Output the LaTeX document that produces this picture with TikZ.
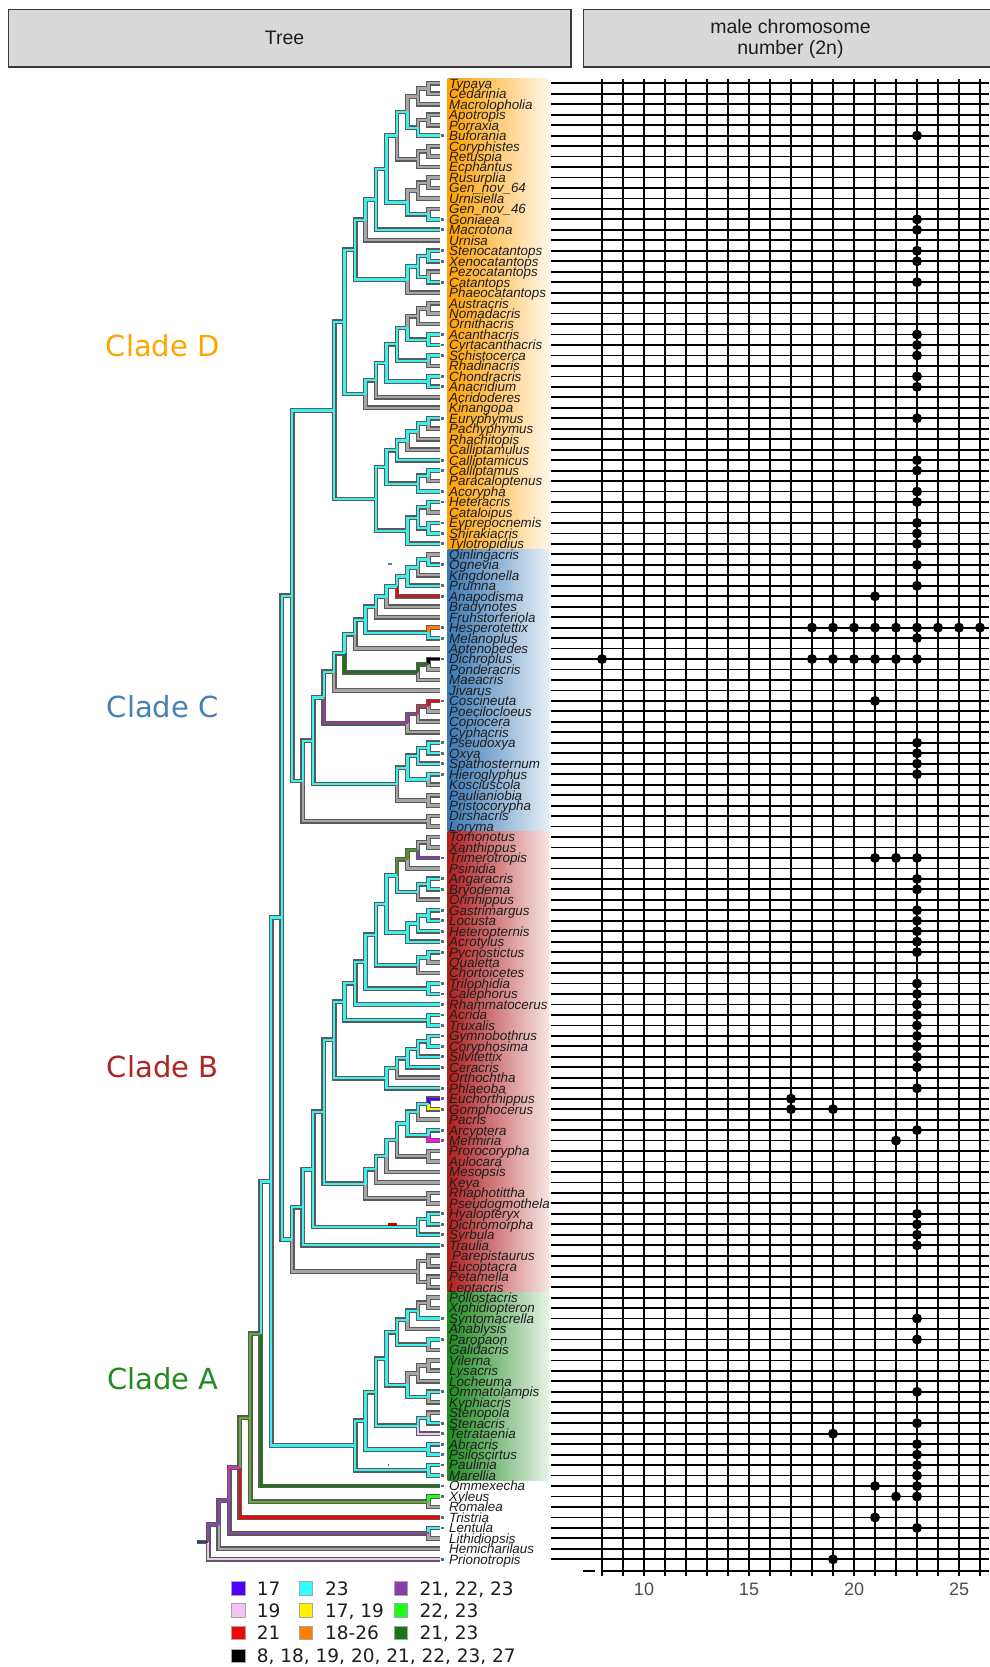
\documentclass[tikz,border=0pt]{standalone}
\usepackage{fontspec}
\setmainfont{Liberation Sans}
\newfontfamily\dvs{DejaVu Sans}
\usetikzlibrary{calc}
\definecolor{cyb}{HTML}{3DF0F0}
\definecolor{grb}{HTML}{A6A6A6}
\definecolor{outl}{HTML}{5A5A5A}
\definecolor{c17}{HTML}{5000FF}
\definecolor{c19}{HTML}{F2C4F8}
\definecolor{c21}{HTML}{F00808}
\definecolor{c23}{HTML}{33FFFF}
\definecolor{c1719}{HTML}{FFF200}
\definecolor{c1826}{HTML}{FF7F00}
\definecolor{c212223}{HTML}{8A3DAC}
\definecolor{c2223}{HTML}{1CFF1C}
\definecolor{c2123}{HTML}{18780F}
\definecolor{mixG}{HTML}{4E9420}
\definecolor{mixL}{HTML}{5FB02A}
\definecolor{mixA}{HTML}{C8305A}
\definecolor{mixB}{HTML}{93409F}
\definecolor{mixM}{HTML}{C23CB4}
\definecolor{mixP}{HTML}{8848A8}
\definecolor{magb}{HTML}{FF10F0}
\definecolor{stubc}{HTML}{3C3C70}
\definecolor{labc}{HTML}{1E1E1E}
\definecolor{tipc}{HTML}{5C6E78}
\definecolor{hdrf}{HTML}{D9D9D9}
\definecolor{hdrd}{HTML}{3A3A3A}
\definecolor{axc}{HTML}{4D4D4D}
\definecolor{cladeD}{HTML}{FFA500}
\definecolor{cladeC}{HTML}{4682B4}
\definecolor{cladeB}{HTML}{B22222}
\definecolor{cladeA}{HTML}{228B22}
\definecolor{bDl}{HTML}{FFA000}
\definecolor{bDr}{HTML}{FFF6EA}
\definecolor{bCl}{HTML}{3A78B4}
\definecolor{bCr}{HTML}{E6EFF7}
\definecolor{bBl}{HTML}{B01E1E}
\definecolor{bBr}{HTML}{F7E6E6}
\definecolor{bAl}{HTML}{1F8A1F}
\definecolor{bAr}{HTML}{E8F3E8}
\definecolor{smark}{HTML}{4682B4}

\newcommand\mkn[4]{%
  \coordinate (#1m) at ($(#3)!0.5!(#4)$);
  \coordinate (#1x) at ({439-10.486*#2},0);
  \coordinate (#1) at (#1x |- #1m);}

\newcommand\alledges{%
% ---- Clade D
\E{A1}{t0}{grb}\E{A1}{t1}{grb}\E{A2}{A1}{grb}\E{A2}{t2}{grb}
\E{A3}{t3}{grb}\E{A3}{t4}{grb}\E{A4}{A3}{grb}\E{A4}{t5}{cyb}
\E{A5}{A2}{grb}\E{A5}{A4}{cyb}
\E{A6}{t6}{grb}\E{A6}{t7}{grb}\E{A7}{A6}{grb}\E{A7}{t8}{grb}
\E{A8}{A5}{cyb}\E{A8}{A7}{grb}
\E{A9}{t9}{grb}\E{A9}{t10}{grb}\E{A10}{A9}{grb}\E{A10}{t11}{grb}
\E{A11}{t12}{grb}\E{A11}{t13}{cyb}\E{A12}{A10}{grb}\E{A12}{A11}{cyb}
\E{A13}{A8}{cyb}\E{A13}{A12}{cyb}\E{A14}{A13}{cyb}\E{A14}{t14}{cyb}
\E{A15}{A14}{cyb}\E{A15}{t15}{grb}
\E{A16}{t16}{cyb}\E{A16}{t17}{cyb}\E{A17}{t18}{grb}\E{A17}{t19}{cyb}
\E{A18}{A16}{cyb}\E{A18}{A17}{cyb}\E{A19}{A18}{cyb}\E{A19}{t20}{grb}
\E{A20}{A15}{cyb}\E{A20}{A19}{cyb}
\E{B1}{t21}{grb}\E{B1}{t22}{grb}\E{B2}{B1}{grb}\E{B2}{t23}{grb}
\E{B3}{t24}{cyb}\E{B3}{t25}{cyb}\E{B4}{B2}{grb}\E{B4}{B3}{cyb}
\E{B5}{t26}{cyb}\E{B5}{t27}{grb}\E{B6}{B4}{cyb}\E{B6}{B5}{cyb}
\E{B7}{t28}{cyb}\E{B7}{t29}{cyb}\E{B8}{B6}{cyb}\E{B8}{B7}{cyb}
\E{B9}{B8}{cyb}\E{B9}{t30}{grb}\E{B10}{B9}{cyb}\E{B10}{t31}{grb}
\E{A21}{A20}{cyb}\E{A21}{B10}{cyb}
\E{EP}{t32}{cyb}\E{EP}{t33}{grb}\E{EPR}{EP}{cyb}\E{EPR}{t34}{grb}
\E{EPRC}{EPR}{cyb}\E{EPRC}{t35}{grb}\E{EA}{EPRC}{cyb}\E{EA}{t36}{cyb}
\E{ECP}{t37}{cyb}\E{ECP}{t38}{grb}\E{ECPA}{ECP}{cyb}\E{ECPA}{t39}{cyb}
\E{EB}{EA}{cyb}\E{EB}{ECPA}{cyb}
\E{EHC}{t40}{cyb}\E{EHC}{t41}{grb}\E{EES}{t42}{cyb}\E{EES}{t43}{cyb}
\E{EHCES}{EHC}{cyb}\E{EHCES}{EES}{cyb}\E{EHCEST}{EHCES}{cyb}\E{EHCEST}{t44}{cyb}
\E{EE}{EB}{cyb}\E{EE}{EHCEST}{cyb}
\E{Droot}{A21}{cyb}\E{Droot}{EE}{cyb}
% ---- Clade C
\E{C1}{t45}{grb}\E{C1}{t46}{cyb}\E{C2}{C1}{cyb}\E{C2}{t47}{grb}\E{C3}{C2}{cyb}\E{C3}{t48}{cyb}
\E{C4}{C3}{cyb}\E{C4}{t49}{c21}\E{C5}{C4}{cyb}\E{C5}{t50}{grb}\E{C6}{C5}{cyb}\E{C6}{t51}{grb}
\E{HM}{t52}{c1826}\E{HM}{t53}{cyb}\E{C7}{C6}{cyb}\E{C7}{HM}{cyb}\E{C8}{C7}{cyb}\E{C8}{t54}{grb}
\E{DP}{t55}{black}\E{DP}{t56}{grb}\E{DPM}{DP}{c2123}\E{DPM}{t57}{grb}\E{C9}{C8}{cyb}\E{C9}{DPM}{c2123}
\E{C10}{C9}{cyb}\E{C10}{t58}{grb}
\E{CP}{t59}{c21}\E{CP}{t60}{grb}\E{CPC}{CP}{mixA}\E{CPC}{t61}{grb}\E{CPCC}{CPC}{mixB}\E{CPCC}{t62}{grb}
\E{C11}{C10}{cyb}\E{C11}{CPCC}{mixB}
\E{PO}{t63}{cyb}\E{PO}{t64}{cyb}\E{POS}{PO}{cyb}\E{POS}{t65}{cyb}\E{HK}{t66}{cyb}\E{HK}{t67}{grb}
\E{POSHK}{POS}{cyb}\E{POSHK}{HK}{cyb}\E{PP}{t68}{grb}\E{PP}{t69}{grb}\E{CG}{POSHK}{cyb}\E{CG}{PP}{grb}
\E{C12}{C11}{cyb}\E{C12}{CG}{cyb}\E{DL}{t70}{grb}\E{DL}{t71}{grb}\E{C13}{C12}{cyb}\E{C13}{DL}{grb}
\E{CD}{Droot}{cyb}\E{CD}{C13}{cyb}
% ---- Clade B
\E{TX}{t72}{grb}\E{TX}{t73}{grb}\E{TXT}{TX}{grb}\E{TXT}{t74}{c212223}\E{TXTP}{TXT}{mixG}\E{TXTP}{t75}{grb}
\E{AB}{t76}{cyb}\E{AB}{t77}{cyb}\E{ABO}{AB}{cyb}\E{ABO}{t78}{grb}\E{Bxa}{TXTP}{mixG}\E{Bxa}{ABO}{cyb}
\E{GL}{t79}{cyb}\E{GL}{t80}{cyb}\E{GLH}{GL}{cyb}\E{GLH}{t81}{cyb}\E{GLHA}{GLH}{cyb}\E{GLHA}{t82}{cyb}
\E{Bxb}{Bxa}{cyb}\E{Bxb}{GLHA}{cyb}
\E{PQ}{t83}{cyb}\E{PQ}{t84}{grb}\E{PQC}{PQ}{cyb}\E{PQC}{t85}{grb}\E{Bxc}{Bxb}{cyb}\E{Bxc}{PQC}{cyb}
\E{TC}{t86}{cyb}\E{TC}{t87}{cyb}\E{Bxd}{Bxc}{cyb}\E{Bxd}{TC}{cyb}\E{Bxe}{Bxd}{cyb}\E{Bxe}{t88}{cyb}
\E{AT}{t89}{cyb}\E{AT}{t90}{cyb}\E{Bxf}{Bxe}{cyb}\E{Bxf}{AT}{cyb}
\E{GC}{t91}{cyb}\E{GC}{t92}{cyb}\E{GCS}{GC}{cyb}\E{GCS}{t93}{cyb}\E{GCSC}{GCS}{cyb}\E{GCSC}{t94}{cyb}
\E{GCSCO}{GCSC}{cyb}\E{GCSCO}{t95}{grb}\E{GCSCOP}{GCSCO}{cyb}\E{GCSCOP}{t96}{cyb}
\E{BBf}{Bxf}{cyb}\E{BBf}{GCSCOP}{cyb}
\E{EG}{t97}{c17}\E{EG}{t98}{c1719}\E{EGP}{EG}{cyb}\E{EGP}{t99}{grb}\E{AM}{t100}{cyb}\E{AM}{t101}{magb}
\E{EGPAM}{EGP}{cyb}\E{EGPAM}{AM}{cyb}\E{PA}{t102}{grb}\E{PA}{t103}{grb}\E{Xa}{EGPAM}{cyb}\E{Xa}{PA}{grb}
\E{Xb}{Xa}{cyb}\E{Xb}{t104}{grb}\E{Xc}{Xb}{cyb}\E{Xc}{t105}{grb}\E{RP}{t106}{grb}\E{RP}{t107}{grb}
\E{Xd}{Xc}{cyb}\E{Xd}{RP}{grb}\E{BBe}{BBf}{cyb}\E{BBe}{Xd}{cyb}
\E{HD}{t108}{cyb}\E{HD}{t109}{cyb}\E{HDS}{HD}{cyb}\E{HDS}{t110}{cyb}\E{BBd}{BBe}{cyb}\E{BBd}{HDS}{cyb}
\E{BBc}{BBd}{cyb}\E{BBc}{t111}{cyb}
\E{PE}{t112}{grb}\E{PE}{t113}{grb}\E{PL}{t114}{grb}\E{PL}{t115}{grb}\E{PEPL}{PE}{grb}\E{PEPL}{PL}{grb}
\E{Broot}{BBc}{cyb}\E{Broot}{PEPL}{grb}
\E{BCD}{CD}{cyb}\E{BCD}{Broot}{cyb}
% ---- Clade A
\E{PX}{t116}{grb}\E{PX}{t117}{grb}\E{PXS}{PX}{grb}\E{PXS}{t118}{cyb}\E{PXSA}{PXS}{cyb}\E{PXSA}{t119}{grb}
\E{PG}{t120}{cyb}\E{PG}{t121}{grb}\E{Axa}{PXSA}{cyb}\E{Axa}{PG}{cyb}
\E{VL}{t122}{grb}\E{VL}{t123}{grb}\E{VLL}{VL}{grb}\E{VLL}{t124}{grb}\E{OK}{t125}{cyb}\E{OK}{t126}{grb}
\E{VLLOK}{VLL}{grb}\E{VLLOK}{OK}{cyb}\E{Axb}{Axa}{cyb}\E{Axb}{VLLOK}{cyb}
\E{SS}{t127}{grb}\E{SS}{t128}{cyb}\E{SST}{SS}{cyb}\E{SST}{t129}{c19}\E{Axc}{Axb}{cyb}\E{Axc}{SST}{cyb}
\E{AP}{t130}{cyb}\E{AP}{t131}{cyb}\E{Axd}{Axc}{cyb}\E{Axd}{AP}{cyb}\E{PM}{t132}{cyb}\E{PM}{t133}{cyb}
\E{Aroot}{Axd}{cyb}\E{Aroot}{PM}{cyb}
% ---- outgroups
\E{Nf}{BCD}{cyb}\E{Nf}{Aroot}{cyb}\E{Ne}{Nf}{cyb}\E{Ne}{t134}{c2123}
\E{XR}{t135}{c2223}\E{XR}{t136}{grb}\E{Nd}{Ne}{mixL}\E{Nd}{XR}{mixL}\E{Nc}{Nd}{mixL}\E{Nc}{t137}{c21}
\E{LL}{t138}{cyb}\E{LL}{t139}{grb}\E{Nb}{Nc}{mixM}\E{Nb}{LL}{mixP}\E{Na}{Nb}{mixP}\E{Na}{t140}{grb}
\E{Root}{Na}{mixP}\E{Root}{t141}{c19}\E{Rs}{Root}{stubc}
}

\begin{document}
\begin{tikzpicture}[x=1pt,y=-1pt,
  brout/.style={line width=4.8pt,draw=outl},
  brin/.style={line width=2.3pt},
  lab/.style={anchor=base west,inner sep=0pt,font=\fontsize{13.4}{13.4}\selectfont\itshape,text=labc},
  gridl/.style={line width=1.8pt,draw=black},
  hbox/.style={draw=hdrd,fill=hdrf,line width=1.2pt,inner sep=0pt},
  htext/.style={inner sep=0pt,align=center,font=\fontsize{19.5}{21}\selectfont,text=labc},
  ticklab/.style={anchor=base,inner sep=0pt,font=\fontsize{18}{18}\selectfont,text=axc},
  lsq/.style={minimum size=13.3pt,inner sep=0pt,draw=gray!70,line width=0.6pt},
  ltx/.style={anchor=base west,inner sep=0pt,font=\dvs\fontsize{18.5}{18.5}\selectfont,text=labc},
  clab/.style={anchor=base,inner sep=0pt,font=\dvs\fontsize{29}{29}\selectfont}]
\useasboundingbox (0,0) rectangle (989,1667);
\fill[white] (0,0) rectangle (989,1667);

% headers
\node[hbox,minimum width=562.5pt,minimum height=57.4pt] (hT) at (289.75,38.3) {};
\node[htext] (hTt) at (284.5,38.3) {Tree};
\node[hbox,minimum width=419pt,minimum height=57.4pt] (hM) at (793.3,38.3) {};
\node[htext] (hMt) at (790.5,38.8) {male chromosome\\number (2n)};

% clade bands
\shade[left color=bDl,right color=bDr] (447.7,78.1) rectangle (549,549.1);
\shade[left color=bCl,right color=bCr] (447.7,549.1) rectangle (549,831.7);
\shade[left color=bBl,right color=bBr] (447.7,831.7) rectangle (549,1292.3);
\shade[left color=bAl,right color=bAr] (447.7,1292.3) rectangle (549,1480.7);

% data grid
\foreach \k in {0,...,18} \draw[gridl] ({602+21*\k},79) -- ({602+21*\k},1576);
\foreach \r in {0,...,141} \draw[gridl] (551,{83.3+10.468*\r}) -- (989,{83.3+10.468*\r});
\draw[gridl] (602,1571) -- (989,1571);
\draw[gridl] (583,1571) -- (595,1571);
\node[ticklab] (x10) at (644,1595.5) {10};
\node[ticklab] (x15) at (749,1595.5) {15};
\node[ticklab] (x20) at (854,1595.5) {20};
\node[ticklab] (x25) at (959,1595.5) {25};

% dots
\foreach \r/\v in {5/23,13/23,14/23,16/23,17/23,19/23,24/23,25/23,26/23,28/23,29/23,32/23,36/23,37/23,39/23,40/23,42/23,43/23,44/23,46/23,48/23,49/21,52/18,52/19,52/20,52/21,52/22,52/23,52/24,52/25,52/26,53/23,55/8,55/18,55/19,55/20,55/21,55/22,55/23,59/21,63/23,64/23,65/23,66/23,74/21,74/22,74/23,76/23,77/23,79/23,80/23,81/23,82/23,83/23,86/23,87/23,88/23,89/23,90/23,91/23,92/23,93/23,94/23,96/23,97/17,98/17,98/19,100/23,101/22,108/23,109/23,110/23,111/23,118/23,120/23,125/23,128/23,129/19,130/23,131/23,132/23,133/23,134/21,134/23,135/22,135/23,137/21,138/23,141/19}
  \fill[black] ({434+21*\v},{83.3+10.468*\r}) circle (5pt);

% tips and labels
\foreach \nm [count=\i from 0] in {Typaya,Cedarinia,Macrolopholia,Apotropis,Porraxia,Buforania,Coryphistes,Retuspia,Ecphantus,Rusurplia,Gen\_nov\_64,Urnisiella,Gen\_nov\_46,Goniaea,Macrotona,Urnisa,Stenocatantops,Xenocatantops,Pezocatantops,Catantops,Phaeocatantops,Austracris,Nomadacris,Ornithacris,Acanthacris,Cyrtacanthacris,Schistocerca,Rhadinacris,Chondracris,Anacridium,Acridoderes,Kinangopa,Euryphymus,Pachyphymus,Rhachitopis,Calliptamulus,Calliptamicus,Calliptamus,Paracaloptenus,Acorypha,Heteracris,Cataloipus,Eyprepocnemis,Shirakiacris,Tylotropidius,Qinlingacris,Ognevia,Kingdonella,Prumna,Anapodisma,Bradynotes,Fruhstorferiola,Hesperotettix,Melanoplus,Aptenopedes,Dichroplus,Ponderacris,Maeacris,Jivarus,Coscineuta,Poecilocloeus,Copiocera,Cyphacris,Pseudoxya,Oxya,Spathosternum,Hieroglyphus,Kosciuscola,Paulianiobia,Pristocorypha,Dirshacris,Loryma,Tomonotus,Xanthippus,Trimerotropis,Psinidia,Angaracris,Bryodema,Orinhippus,Gastrimargus,Locusta,Heteropternis,Acrotylus,Pycnostictus,Qualetta,Chortoicetes,Trilophidia,Calephorus,Rhammatocerus,Acrida,Truxalis,Gymnobothrus,Coryphosima,Silvitettix,Ceracris,Orthochtha,Phlaeoba,Euchorthippus,Gomphocerus,Pacris,Arcyptera,Mermiria,Prorocorypha,Aulocara,Mesopsis,Keya,Rhaphotittha,Pseudogmothela,Hyalopteryx,Dichromorpha,Syrbula,Traulia,\hspace{3pt}Parepistaurus,Eucoptacra,Petamella,Leptacris,Pollostacris,Xiphidiopteron,Syntomacrella,Anablysis,Paropaon,Galidacris,Vilerna,Lysacris,Locheuma,Ommatolampis,Kyphiacris,Stenopola,Stenacris,Tetrataenia,Abracris,Psiloscirtus,Paulinia,Marellia,Ommexecha,Xyleus,Romalea,Tristria,Lentula,Lithidiopsis,Hemicharilaus,Prionotropis}
{
  \coordinate (t\i) at (440,{83.3+10.468*\i});
  \node[lab] (lab\i) at (449,{88.2+10.468*\i}) {\nm};
}

% internal nodes
\mkn{A1}{1}{t0}{t1}\mkn{A2}{2}{A1}{t2}\mkn{A3}{1}{t3}{t4}\mkn{A4}{2}{A3}{t5}\mkn{A5}{3}{A2}{A4}
\mkn{A6}{1}{t6}{t7}\mkn{A7}{2}{A6}{t8}\mkn{A8}{4}{A5}{A7}
\mkn{A9}{1}{t9}{t10}\mkn{A10}{2}{A9}{t11}\mkn{A11}{1}{t12}{t13}\mkn{A12}{3}{A10}{A11}
\mkn{A13}{5}{A8}{A12}\mkn{A14}{6}{A13}{t14}\mkn{A15}{7}{A14}{t15}
\mkn{A16}{1}{t16}{t17}\mkn{A17}{1}{t18}{t19}\mkn{A18}{2}{A16}{A17}\mkn{A19}{3}{A18}{t20}
\mkn{A20}{8}{A15}{A19}
\mkn{B1}{1}{t21}{t22}\mkn{B2}{2}{B1}{t23}\mkn{B3}{1}{t24}{t25}\mkn{B4}{3}{B2}{B3}
\mkn{B5}{1}{t26}{t27}\mkn{B6}{4}{B4}{B5}\mkn{B7}{1}{t28}{t29}\mkn{B8}{5}{B6}{B7}
\mkn{B9}{6}{B8}{t30}\mkn{B10}{7}{B9}{t31}\mkn{A21}{9}{A20}{B10}
\mkn{EP}{1}{t32}{t33}\mkn{EPR}{2}{EP}{t34}\mkn{EPRC}{3}{EPR}{t35}\mkn{EA}{4}{EPRC}{t36}
\mkn{ECP}{1}{t37}{t38}\mkn{ECPA}{2}{ECP}{t39}\mkn{EB}{5}{EA}{ECPA}
\mkn{EHC}{1}{t40}{t41}\mkn{EES}{1}{t42}{t43}\mkn{EHCES}{2}{EHC}{EES}\mkn{EHCEST}{3}{EHCES}{t44}
\mkn{EE}{6}{EB}{EHCEST}\mkn{Droot}{10}{A21}{EE}
\mkn{C1}{1}{t45}{t46}\mkn{C2}{2}{C1}{t47}\mkn{C3}{3}{C2}{t48}\mkn{C4}{4}{C3}{t49}\mkn{C5}{5}{C4}{t50}\mkn{C6}{6}{C5}{t51}
\mkn{HM}{1}{t52}{t53}\mkn{C7}{7}{C6}{HM}\mkn{C8}{8}{C7}{t54}
\mkn{DP}{1}{t55}{t56}\mkn{DPM}{2}{DP}{t57}\mkn{C9}{9}{C8}{DPM}\mkn{C10}{10}{C9}{t58}
\mkn{CP}{1}{t59}{t60}\mkn{CPC}{2}{CP}{t61}\mkn{CPCC}{3}{CPC}{t62}\mkn{C11}{11}{C10}{CPCC}
\mkn{PO}{1}{t63}{t64}\mkn{POS}{2}{PO}{t65}\mkn{HK}{1}{t66}{t67}\mkn{POSHK}{3}{POS}{HK}
\mkn{PP}{1}{t68}{t69}\mkn{CG}{4}{POSHK}{PP}\mkn{C12}{12}{C11}{CG}
\mkn{DL}{1}{t70}{t71}\mkn{C13}{13}{C12}{DL}\mkn{CD}{14}{Droot}{C13}
\mkn{TX}{1}{t72}{t73}\mkn{TXT}{2}{TX}{t74}\mkn{TXTP}{3}{TXT}{t75}
\mkn{AB}{1}{t76}{t77}\mkn{ABO}{2}{AB}{t78}\mkn{Bxa}{4}{TXTP}{ABO}
\mkn{GL}{1}{t79}{t80}\mkn{GLH}{2}{GL}{t81}\mkn{GLHA}{3}{GLH}{t82}\mkn{Bxb}{5}{Bxa}{GLHA}
\mkn{PQ}{1}{t83}{t84}\mkn{PQC}{2}{PQ}{t85}\mkn{Bxc}{6}{Bxb}{PQC}
\mkn{TC}{1}{t86}{t87}\mkn{Bxd}{7}{Bxc}{TC}\mkn{Bxe}{8}{Bxd}{t88}
\mkn{AT}{1}{t89}{t90}\mkn{Bxf}{9}{Bxe}{AT}
\mkn{GC}{1}{t91}{t92}\mkn{GCS}{2}{GC}{t93}\mkn{GCSC}{3}{GCS}{t94}\mkn{GCSCO}{4}{GCSC}{t95}\mkn{GCSCOP}{5}{GCSCO}{t96}
\mkn{BBf}{10}{Bxf}{GCSCOP}
\mkn{EG}{1}{t97}{t98}\mkn{EGP}{2}{EG}{t99}\mkn{AM}{1}{t100}{t101}\mkn{EGPAM}{3}{EGP}{AM}
\mkn{PA}{1}{t102}{t103}\mkn{Xa}{4}{EGPAM}{PA}\mkn{Xb}{5}{Xa}{t104}\mkn{Xc}{6}{Xb}{t105}
\mkn{RP}{1}{t106}{t107}\mkn{Xd}{7}{Xc}{RP}
\mkn{BBe}{11}{BBf}{Xd}
\mkn{HD}{1}{t108}{t109}\mkn{HDS}{2}{HD}{t110}\mkn{BBd}{12}{BBe}{HDS}\mkn{BBc}{13}{BBd}{t111}
\mkn{PE}{1}{t112}{t113}\mkn{PL}{1}{t114}{t115}\mkn{PEPL}{2}{PE}{PL}\mkn{Broot}{14}{BBc}{PEPL}
\mkn{BCD}{15}{CD}{Broot}
\mkn{PX}{1}{t116}{t117}\mkn{PXS}{2}{PX}{t118}\mkn{PXSA}{3}{PXS}{t119}\mkn{PG}{1}{t120}{t121}\mkn{Axa}{4}{PXSA}{PG}
\mkn{VL}{1}{t122}{t123}\mkn{VLL}{2}{VL}{t124}\mkn{OK}{1}{t125}{t126}\mkn{VLLOK}{3}{VLL}{OK}\mkn{Axb}{5}{Axa}{VLLOK}
\mkn{SS}{1}{t127}{t128}\mkn{SST}{2}{SS}{t129}\mkn{Axc}{6}{Axb}{SST}
\mkn{AP}{1}{t130}{t131}\mkn{Axd}{7}{Axc}{AP}\mkn{PM}{1}{t132}{t133}\mkn{Aroot}{8}{Axd}{PM}
\mkn{Nf}{16}{BCD}{Aroot}\mkn{Ne}{17}{Nf}{t134}\mkn{XR}{1}{t135}{t136}\mkn{Nd}{18}{Ne}{XR}\mkn{Nc}{19}{Nd}{t137}
\mkn{LL}{1}{t138}{t139}\mkn{Nb}{20}{Nc}{LL}\mkn{Na}{21}{Nb}{t140}\mkn{Root}{22}{Na}{t141}
\coordinate (Rs) at ($(Root)+(-11.6,0)$);

% tree: outlines, then coloured cores
\def\E#1#2#3{\draw[brout] (#1) |- (#2);}
\alledges
\def\E#1#2#3{\draw[brin,draw=#3] (#1) |- (#2);}
\alledges

% tip markers
\foreach \r in {5,13,14,16,17,19,24,25,26,28,29,32,36,37,39,40,42,43,44,46,48,49,52,53,55,59,63,64,65,66,74,76,77,79,80,81,82,83,86,87,88,89,90,91,92,93,94,96,97,98,100,101,108,109,110,111,118,120,125,128,129,130,131,132,133,134,135,137,138,141}
  \fill[tipc] (441.2,{81.9+10.468*\r}) rectangle ++(2.8,2.8);

% small marks
\fill[smark] (388.3,563.4) rectangle (391.7,565.4);
\fill[red!75!black] (388.3,1223.2) rectangle (396.7,1225.8);
\fill[green!60!black] (387.8,1464.4) rectangle (388.9,1465.6);

% clade labels
\node[clab,text=cladeD] (cD) at (162.7,356.2) {Clade D};
\node[clab,text=cladeC] (cC) at (162.7,717.8) {Clade C};
\node[clab,text=cladeB] (cB) at (162.7,1077.2) {Clade B};
\node[clab,text=cladeA] (cA) at (162.7,1389.9) {Clade A};

% legend
\node[lsq,fill=c17] (g1) at (238.3,1588.3) {};
\node[ltx] (g1t) at (256.7,1595.1) {17};
\node[lsq,fill=c23] (g2) at (306,1588.3) {};
\node[ltx] (g2t) at (325,1595.1) {23};
\node[lsq,fill=c212223] (g3) at (400.7,1588.3) {};
\node[ltx] (g3t) at (419.3,1595.1) {21, 22, 23};
\node[lsq,fill=c19] (g4) at (238.3,1610.3) {};
\node[ltx] (g4t) at (256.7,1617.1) {19};
\node[lsq,fill=c1719] (g5) at (306,1610.3) {};
\node[ltx] (g5t) at (325,1617.1) {17, 19};
\node[lsq,fill=c2223] (g6) at (400.7,1610.3) {};
\node[ltx] (g6t) at (419.3,1617.1) {22, 23};
\node[lsq,fill=c21] (g7) at (238.3,1632.8) {};
\node[ltx] (g7t) at (256.7,1639.6) {21};
\node[lsq,fill=c1826] (g8) at (306,1632.8) {};
\node[ltx] (g8t) at (325,1639.6) {18-26};
\node[lsq,fill=c2123] (g9) at (400.7,1632.8) {};
\node[ltx] (g9t) at (419.3,1639.6) {21, 23};
\node[lsq,fill=black] (g10) at (238.3,1655.8) {};
\node[ltx] (g10t) at (256.7,1662.6) {8, 18, 19, 20, 21, 22, 23, 27};
\end{tikzpicture}
\end{document}
